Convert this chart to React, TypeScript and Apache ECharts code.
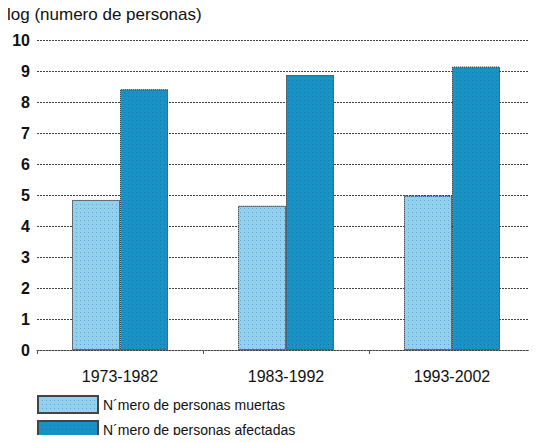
import React, { useEffect, useRef } from "react";
import * as echarts from "echarts";

const categories = ["1973-1982", "1983-1992", "1993-2002"];
const muertas = [4.84, 4.65, 4.98];
const afectadas = [8.41, 8.87, 9.14];
const seriesNames = ["N´mero de personas muertas", "N´mero de personas afectadas"];
const yTitle = "log (numero de personas)";

const FONT = "'Liberation Sans', Arial, sans-serif";

export default function App() {
  const ref = useRef<HTMLDivElement>(null);
  useEffect(() => {
    if (!ref.current) return;
    const chart = echarts.init(ref.current, undefined, { renderer: "svg" });
    const border = { borderColor: "#444", borderWidth: 1, borderType: "dotted" as const };
    chart.setOption({
      animation: false,
      backgroundColor: "#fff",
      textStyle: { fontFamily: FONT },
      graphic: [
        {
          type: "text",
          left: 7,
          top: 6,
          style: { text: yTitle, fontFamily: FONT, fontSize: 17, fill: "#111" },
        },
      ],
      grid: { left: 37, right: 2, top: 40, bottom: 93, containLabel: false },
      legend: {
        orient: "vertical",
        left: 37,
        top: 395,
        padding: 0,
        itemWidth: 60,
        itemHeight: 17,
        itemGap: 6,
        icon: "rect",
        selectedMode: false,
        textStyle: { fontFamily: FONT, fontSize: 14, color: "#111" },
        data: seriesNames,
      },
      xAxis: {
        type: "category",
        data: categories,
        axisLine: { show: true, lineStyle: { color: "#444", type: [2, 1], width: 1 } },
        axisTick: { show: true, length: 4, lineStyle: { color: "#555" } },
        axisLabel: { fontFamily: FONT, fontSize: 16, color: "#111", margin: 18 },
      },
      yAxis: {
        type: "value",
        min: 0,
        max: 10,
        interval: 1,
        axisLine: { show: false },
        axisTick: { show: false },
        axisLabel: { fontFamily: FONT, fontSize: 16, fontWeight: "bold", color: "#111", margin: 7 },
        splitLine: { show: true, lineStyle: { color: "#444", type: [2, 1], width: 1 } },
      },
      series: [
        {
          name: seriesNames[0],
          type: "bar",
          data: muertas,
          barWidth: 48,
          barGap: "0%",
          itemStyle: {
            color: "#90d2ea",
            ...border,
            decal: {
              symbol: "rect",
              symbolSize: 1,
              color: "rgba(90,110,210,0.55)",
              dashArrayX: [1, 3],
              dashArrayY: [1, 3],
            },
          },
        },
        {
          name: seriesNames[1],
          type: "bar",
          data: afectadas,
          barWidth: 48,
          itemStyle: {
            color: "#1993c5",
            ...border,
            decal: {
              symbol: "rect",
              symbolSize: 1,
              color: "rgba(20,100,150,0.5)",
              dashArrayX: [1, 3],
              dashArrayY: [1, 3],
            },
          },
        },
      ],
    });
    return () => chart.dispose();
  }, []);
  return <div ref={ref} style={{ width: 537, height: 443, margin: -8 }} />;
}
